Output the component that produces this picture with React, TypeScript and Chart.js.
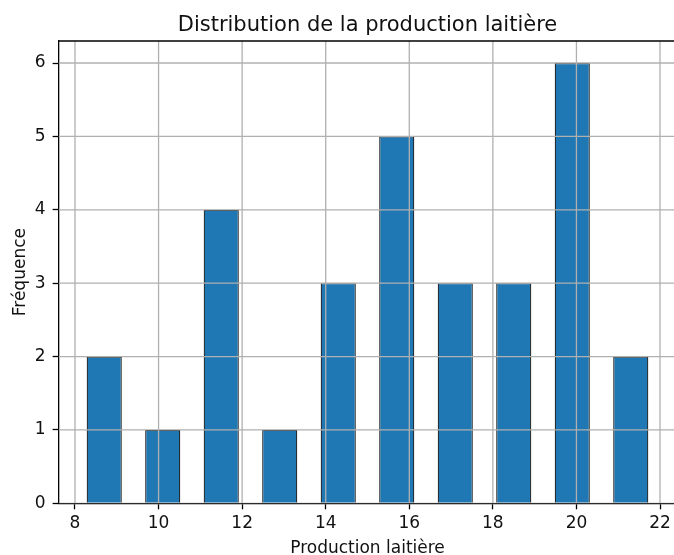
import React, { useEffect, useRef } from "react";
import { Chart, registerables } from "chart.js";

Chart.register(...registerables);

const titleText = "Distribution de la production laitière";
const xLabel = "Production laitière";
const yLabel = "Fréquence";
const binCenters = [8.7, 10.1, 11.5, 12.9, 14.3, 15.7, 17.1, 18.5, 19.9, 21.3];
const counts = [2, 1, 4, 1, 3, 5, 3, 3, 6, 2];
const xTickStep = 2;
const yTickStep = 1;

const FONT = "'DejaVu Sans', sans-serif";

export default function App() {
  const ref = useRef<HTMLCanvasElement | null>(null);
  useEffect(() => {
    if (!ref.current) return;
    const overlay = {
      id: "overlay",
      afterDatasetsDraw(chart: any) {
        const ctx = chart.ctx;
        const a = chart.chartArea;
        const xs = chart.scales.x;
        const ys = chart.scales.y;
        ctx.save();
        ctx.beginPath();
        ctx.rect(a.left, a.top, a.right - a.left, a.bottom - a.top);
        ctx.clip();
        ctx.strokeStyle = "#b0b0b0";
        ctx.lineWidth = 1.3;
        xs.ticks.forEach((t: any) => {
          const px = xs.getPixelForValue(t.value);
          ctx.beginPath();
          ctx.moveTo(px, a.top);
          ctx.lineTo(px, a.bottom);
          ctx.stroke();
        });
        ys.ticks.forEach((t: any) => {
          const py = ys.getPixelForValue(t.value);
          ctx.beginPath();
          ctx.moveTo(a.left, py);
          ctx.lineTo(a.right, py);
          ctx.stroke();
        });
        ctx.restore();
        ctx.save();
        ctx.strokeStyle = "#000";
        ctx.lineWidth = 1.3;
        ctx.beginPath();
        ctx.moveTo(a.left, a.top);
        ctx.lineTo(a.right + 5, a.top);
        ctx.stroke();
        ctx.fillStyle = "#111";
        ctx.textAlign = "center";
        ctx.textBaseline = "alphabetic";
        const cx = (a.left + a.right) / 2;
        ctx.font = `21px ${FONT}`;
        ctx.fillText(titleText, cx, 31.3);
        ctx.font = `17px ${FONT}`;
        ctx.fillText(xLabel, cx, 552.5);
        ctx.translate(25, (a.top + a.bottom) / 2);
        ctx.rotate(-Math.PI / 2);
        ctx.fillText(yLabel, 0, 0);
        ctx.restore();
      },
    };
    const chart = new Chart(ref.current, {
      type: "bar",
      data: {
        datasets: [
          {
            data: binCenters.map((x, i) => ({ x, y: counts[i] })),
            backgroundColor: "#1f77b4",
            borderColor: "#111",
            borderWidth: 1.2,
            barPercentage: 0.6,
            categoryPercentage: 1,
          },
        ],
      },
      options: {
        animation: false,
        responsive: false,
        devicePixelRatio: 1,
        layout: { padding: { top: 41, right: 3.6, left: 0, bottom: 0 } },
        plugins: { legend: { display: false }, title: { display: false }, tooltip: { enabled: false } },
        scales: {
          x: {
            type: "linear",
            min: 7.608,
            max: 22.392,
            offset: false,
            grid: { offset: false, drawOnChartArea: false, tickColor: "#000", tickLength: 6, tickWidth: 1.3 },
            border: { color: "#000", width: 1.3 },
            ticks: { stepSize: xTickStep, includeBounds: false, padding: 4, color: "#111", font: { family: FONT, size: 17 }, maxRotation: 0 },
            afterFit: (s: any) => { s.height = 51.7; },
          },
          y: {
            min: 0,
            max: 6.3,
            grid: { drawOnChartArea: false, tickColor: "#000", tickLength: 6, tickWidth: 1.3 },
            border: { color: "#000", width: 1.3 },
            ticks: { stepSize: yTickStep, includeBounds: false, padding: 7, color: "#111", font: { family: FONT, size: 17 } },
            afterFit: (s: any) => { s.width = 58.6; },
          },
        },
      },
      plugins: [overlay],
    });
    return () => chart.destroy();
  }, []);
  return (
    <div style={{ position: "fixed", left: 0, top: 0, width: 674, height: 555, overflow: "hidden", background: "#fff" }}>
      <canvas ref={ref} width={680} height={555} style={{ width: 680, height: 555, display: "block" }} />
    </div>
  );
}
